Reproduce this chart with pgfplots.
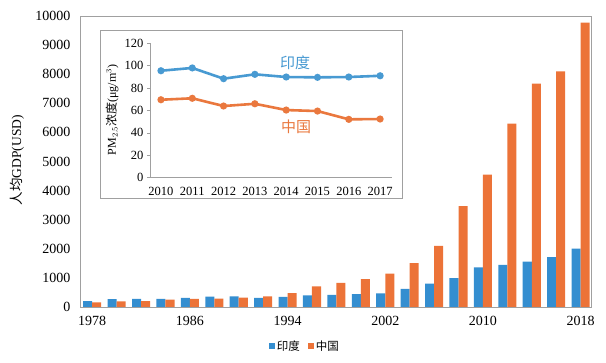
\documentclass[border=0pt]{standalone}
\usepackage{pgfplots}
\pgfplotsset{compat=1.18}
\usepackage{fontspec}
\setmainfont{Liberation Serif}
\newfontfamily\cjk{Noto Sans CJK SC}
\definecolor{barblue}{RGB}{52,142,208}
\definecolor{barorange}{RGB}{236,115,56}
\definecolor{lineblue}{RGB}{72,154,210}
\definecolor{lineorange}{RGB}{234,120,62}
\definecolor{framegray}{RGB}{160,160,160}

\pgfplotstableread{
year india china
1978 206 156
1980 267 195
1982 275 203
1984 277 251
1986 311 282
1988 355 284
1990 368 318
1992 317 366
1994 346 473
1996 400 709
1998 413 829
2000 443 959
2002 471 1149
2004 624 1509
2006 802 2099
2008 991 3468
2010 1358 4550
2012 1444 6301
2014 1560 7679
2016 1710 8094
2018 2005 9771
}\gdp

\pgfplotstableread{
year india china
2010 95.5 69.6
2011 98.0 70.9
2012 88.4 64.0
2013 92.3 66.0
2014 89.9 60.4
2015 89.6 59.5
2016 89.9 52.1
2017 91.0 52.4
}\pm

\begin{document}
\begin{tikzpicture}
\path[use as bounding box] (0,0) rectangle (606pt,362pt);
\begin{axis}[
  at={(80pt,55pt)}, anchor=south west,
  width=511pt, height=291pt, scale only axis,
  xmin=1977, xmax=2018.85, ymin=0, ymax=10000,
  axis line style={framegray},
  xtick={1978,1986,1994,2002,2010,2018},
  ytick={0,1000,...,10000},
  tick style={draw=none},
  scaled y ticks=false,
  /pgf/number format/1000 sep={},
  /pgf/number format/assume math mode=true,
  tick label style={font=\fontsize{14}{16}\selectfont},
  xticklabel style={yshift=-6pt},
  yticklabel style={xshift=-6pt},
  legend style={at={(axis description cs:0.44,-0.135)}, anchor=center, draw=none,
    font=\cjk\fontsize{11.5}{13}\selectfont, legend columns=2,
    /tikz/every even column/.append style={column sep=6pt}},
  legend image code/.code={\fill[#1] (0pt,-3pt) rectangle (6pt,3pt);},
]
\addplot[ybar, fill=barblue, draw=none, bar width=0.74, bar shift=-0.37] table[x=year,y=india] {\gdp};
\addlegendentry{印度}
\addplot[ybar, fill=barorange, draw=none, bar width=0.74, bar shift=0.37] table[x=year,y=china] {\gdp};
\addlegendentry{中国}
\end{axis}
\node[rotate=90, font=\fontsize{13.5}{15}\selectfont] at (17pt,202pt) {{\cjk 人均}GDP(USD)};

\draw[framegray, fill=white] (100pt,164pt) rectangle (402pt,332pt);
\begin{axis}[
  at={(150pt,184.3pt)}, anchor=south west,
  width=241.7pt, height=134.4pt, scale only axis,
  xmin=2009.65, xmax=2017.37, ymin=0, ymax=120,
  axis x line=bottom, axis y line=left,
  axis line style={framegray,-},
  xtick={2010,...,2017}, ytick={0,20,...,120},
  xtick style={draw=none},
  ytick style={framegray, thin},
  tick align=outside, major tick length=3pt,
  /pgf/number format/1000 sep={},
  /pgf/number format/assume math mode=true,
  tick label style={font=\fontsize{12.5}{14}\selectfont},
  xticklabel style={yshift=-3pt},
]
\addplot[lineblue, line width=2.6pt, mark=*, mark size=2.2pt] table[x=year,y=india] {\pm};
\addplot[lineorange, line width=2.6pt, mark=*, mark size=2.2pt] table[x=year,y=china] {\pm};
\end{axis}
\node[rotate=90, font=\fontsize{12}{14}\selectfont] at (112pt,252pt) {PM$_{2.5}${\cjk 浓度}(μg/m$^{3}$)};
\node[lineblue, font=\cjk\fontsize{15}{17}\selectfont] at (295pt,299pt) {印度};
\node[lineorange, font=\cjk\fontsize{15}{17}\selectfont] at (296pt,235pt) {中国};
\end{tikzpicture}
\end{document}
